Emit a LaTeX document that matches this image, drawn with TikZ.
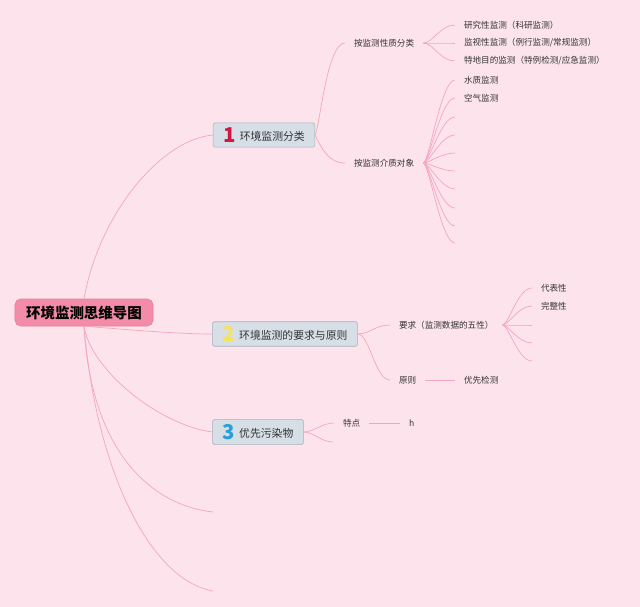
\documentclass[tikz,border=0pt]{standalone}
\usepackage{fontspec}
\setmainfont{Noto Sans CJK SC}
\usetikzlibrary{calc}
\definecolor{bgpink}{HTML}{FDE4EC}
\definecolor{rootpink}{HTML}{F28CA8}
\definecolor{rootedge}{HTML}{EB7E9C}
\definecolor{topicfill}{HTML}{D6DEE6}
\definecolor{topicedge}{HTML}{A2B2B8}
\definecolor{linkpink}{HTML}{F5A5BE}
\definecolor{numred}{HTML}{D3163F}
\definecolor{numyellow}{HTML}{F6E35A}
\definecolor{numblue}{HTML}{2A9ED9}
\definecolor{leaftext}{HTML}{333333}
\tikzset{
  root/.style  = {rectangle, rounded corners=4pt, draw=rootedge, fill=rootpink,
                  minimum width=3.45cm, minimum height=0.675cm,
                  font=\fontsize{10.3}{12}\selectfont\bfseries},
  topic/.style = {rectangle, rounded corners=1pt, draw=topicedge, fill=topicfill,
                  minimum height=0.6cm, inner xsep=0.25cm, text=black!80,
                  font=\fontsize{7.7}{9}\selectfont},
  sub/.style   = {anchor=west, inner xsep=0.22cm, inner ysep=1pt, text=leaftext,
                  font=\fontsize{6.1}{7}\selectfont},
  link/.style  = {draw=linkpink, line width=0.5pt},
}

\begin{document}
\begin{tikzpicture}[x=0.025cm, y=-0.025cm]
  \fill[bgpink] (0,0) rectangle (640,607);

  % ---- central topic ----
  \node[root] (root) at (84,312.5) {环境监测思维导图};

  % ---- main topics ----
  \node[topic] (t1) at (264,135) {\raisebox{-1.6pt}{\color{numred}\fontsize{14.5}{15}\selectfont\bfseries 1}\hspace{3pt}环境监测分类};
  \node[topic] (t2) at (285,334) {\raisebox{-1.6pt}{\color{numyellow}\fontsize{14.5}{15}\selectfont\bfseries 2}\hspace{3pt}环境监测的要求与原则};
  \node[topic] (t3) at (258,432) {\raisebox{-1.6pt}{\color{numblue}\fontsize{14.5}{15}\selectfont\bfseries 3}\hspace{3pt}优先污染物};
  \coordinate (t4) at (213,512);
  \coordinate (t5) at (213,591);

  % ---- branch 1 ----
  \node[sub] (c11) at (345,43)  {按监测性质分类};
  \node[sub] (c12) at (345,163) {按监测介质对象};
  \node[sub] (l111) at (455,25) {研究性监测（科研监测）};
  \node[sub] (l112) at (455,43) {监视性监测（例行监测/常规监测）};
  \node[sub] (l113) at (455,61) {特地目的监测（特例检测/应急监测）};
  \node[sub] (l121) at (455,80) {水质监测};
  \node[sub] (l122) at (455,98) {空气监测};

  % ---- branch 2 ----
  \node[sub] (c21) at (390,325) {要求（监测数据的五性）};
  \node[sub] (c22) at (390,380) {原则};
  \node[sub] (l221) at (455,380) {优先检测};
  \node[sub] (l211) at (532,288) {代表性};
  \node[sub] (l212) at (532,306) {完整性};

  % ---- branch 3 ----
  \node[sub] (c31) at (334,423) {特点};
  \node[sub] (l311) at (400,423) {h};
  \coordinate (b32) at (333,442);

  % ---- root links ----
  \draw[link] (root.north) .. controls +(15,-84) and +(-53,5) .. (t1.west);
  \draw[link] (root.south) .. controls +(30,2) and +(-40,0) .. (t2.west);
  \draw[link] (root.south) .. controls +(7,44) and +(-53,-7) .. (t3.west);
  \draw[link] (root.south) .. controls +(7,124) and +(-63,-7) .. (t4);
  \draw[link] (root.south) .. controls +(12,144) and +(-63,-11) .. (t5);

  % ---- branch 1 links ----
  \draw[link] (t1.east) .. controls +(5,-10) and +(-18,0) .. (c11.west);
  \draw[link] (t1.east) .. controls +(5,10) and +(-18,0) .. (c12.west);
  \foreach \leaf in {l111,l112,l113}
    \draw[link] (c11.east) .. controls +(10,0) and +(-15,0) .. (\leaf.west);
  \foreach \leaf in {l121,l122}
    \draw[link] (c12.east) .. controls +(6,0) and +(-14,0) .. (\leaf.west);
  \foreach \y [count=\i from 3] in {117,135,153,171,189,208,226,243} {
    \coordinate (b12\i) at (455,\y);
    \draw[link] (c12.east) .. controls +(6,0) and +(-14,0) .. (b12\i);
  }

  % ---- branch 2 links ----
  \draw[link] (t2.east) .. controls +(12,0) and +(-15,0) .. (c21.west);
  \draw[link] (t2.east) .. controls +(12,0) and +(-15,0) .. (c22.west);
  \draw[link] (c22.east) -- (l221.west);
  \foreach \leaf in {l211,l212}
    \draw[link] (c21.east) .. controls +(6,0) and +(-14,0) .. (\leaf.west);
  \foreach \y [count=\i from 3] in {325,343,361} {
    \coordinate (b21\i) at (532,\y);
    \draw[link] (c21.east) .. controls +(6,0) and +(-14,0) .. (b21\i);
  }

  % ---- branch 3 links ----
  \draw[link] (t3.east) .. controls +(10,0) and +(-12,0) .. (c31.west);
  \draw[link] (t3.east) .. controls +(10,0) and +(-12,0) .. (b32);
  \draw[link] (c31.east) -- (l311.west);
\end{tikzpicture}
\end{document}
